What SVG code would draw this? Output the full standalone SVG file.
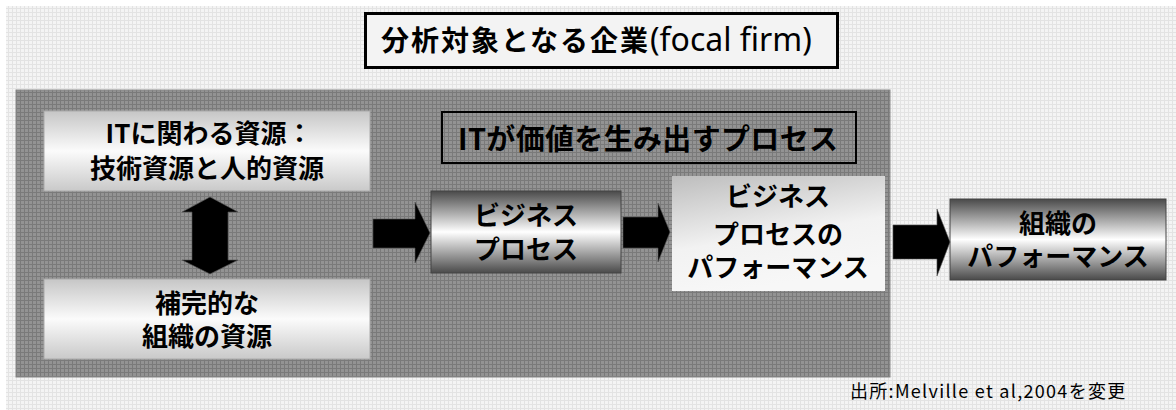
<svg xmlns="http://www.w3.org/2000/svg" width="1176" height="410" viewBox="0 0 1176 410">
<style>
.jp{font-family:"Noto Sans CJK JP","Noto Sans",sans-serif;font-weight:700;fill:#000;}
.lbl{font-size:26px;text-anchor:middle;}
.src{font-family:"Noto Sans CJK JP","Noto Sans",sans-serif;font-weight:400;font-size:18px;letter-spacing:1.3px;fill:#000;}
.arrow{fill:#000;stroke:#555;stroke-width:0.6;}
</style>
<defs>
<pattern id="gridLight" width="4" height="4" patternUnits="userSpaceOnUse">
<rect width="4" height="4" fill="#f4f4f4"/>
<path d="M0 0.5H4M0.5 0V4" stroke="#e3e3e3" stroke-width="1"/>
</pattern>
<pattern id="gridDark" width="4" height="4" patternUnits="userSpaceOnUse">
<rect width="4" height="4" fill="#939393"/>
<path d="M0 0.5H4M0.5 0V4" stroke="#7a7a7a" stroke-width="1"/>
</pattern>
<linearGradient id="gLight" x1="0" y1="0" x2="0" y2="1">
<stop offset="0" stop-color="#c6c6c6"/>
<stop offset="0.5" stop-color="#fbfbfb"/>
<stop offset="1" stop-color="#c9c9c9"/>
</linearGradient>
<linearGradient id="gDark" x1="0" y1="0" x2="0" y2="1">
<stop offset="0" stop-color="#4a4a4a"/>
<stop offset="0.5" stop-color="#ffffff"/>
<stop offset="1" stop-color="#4a4a4a"/>
</linearGradient>
<linearGradient id="gPerf" x1="0" y1="0" x2="0.3" y2="1">
<stop offset="0" stop-color="#bdbdbd"/>
<stop offset="0.6" stop-color="#f2f2f2"/>
<stop offset="1" stop-color="#f7f7f7"/>
</linearGradient>
</defs>
<rect x="0" y="0" width="1176" height="410" fill="#ffffff"/>
<rect x="6" y="6" width="1170" height="404" fill="url(#gridLight)"/>
<g id="firm-panel">
<rect x="16" y="90" width="874" height="287" fill="url(#gridDark)" stroke="#8a8a8a" stroke-width="1"/>
</g>
<g id="title">
<rect x="365.5" y="13.5" width="472" height="54" fill="#f3f3f3" stroke="#000" stroke-width="3"/>
<text class="jp" x="381" y="51" font-size="28" textLength="267" lengthAdjust="spacing">分析対象となる企業</text>
<text x="650" y="51" font-family="Noto Sans, sans-serif" font-size="32" font-weight="400">(focal firm)</text>
</g>
<g id="process-label">
<rect x="442" y="112" width="414" height="51" fill="none" stroke="#000" stroke-width="2"/>
<text class="jp" x="458" y="150" font-size="29" textLength="380" lengthAdjust="spacing">ITが価値を生み出すプロセス</text>
</g>
<g id="it-resources">
<rect x="44" y="111" width="326" height="80" fill="url(#gLight)" stroke="#aaa" stroke-width="1"/>
<text class="jp lbl" x="209" y="143">ITに関わる資源：</text>
<text class="jp lbl" x="207" y="178">技術資源と人的資源</text>
</g>
<g id="org-resources">
<rect x="44" y="279" width="326" height="80" fill="url(#gLight)" stroke="#aaa" stroke-width="1"/>
<text class="jp lbl" x="207" y="313">補完的な</text>
<text class="jp lbl" x="207" y="346">組織の資源</text>
</g>
<g id="business-process">
<rect x="431" y="191" width="190" height="82" fill="url(#gDark)" stroke="#444" stroke-width="1"/>
<text class="jp lbl" x="526" y="225">ビジネス</text>
<text class="jp lbl" x="526" y="259">プロセス</text>
</g>
<g id="bp-performance">
<rect x="672" y="176" width="213" height="115" fill="url(#gPerf)"/>
<text class="jp lbl" x="778" y="206">ビジネス</text>
<text class="jp lbl" x="778" y="244">プロセスの</text>
<text class="jp lbl" x="778" y="277">パフォーマンス</text>
</g>
<g id="org-performance">
<rect x="950" y="199" width="216" height="81" fill="url(#gDark)" stroke="#444" stroke-width="1"/>
<text class="jp lbl" x="1058" y="233">組織の</text>
<text class="jp lbl" x="1058" y="266">パフォーマンス</text>
</g>
<g id="connectors">
<polygon class="arrow" points="210,197 238,212 228,212 228,260 238,260 210,274 182,260 192,260 192,212 182,212"/>
<polygon class="arrow" points="373,219 415,219 415,202 430,233 415,263 415,248 373,248"/>
<polygon class="arrow" points="623,217 658,217 658,203 670,232 658,262 658,248 623,248"/>
<polygon class="arrow" points="893,225 937,225 937,209 950,242 937,276 937,259 893,259"/>
</g>
<g id="source">
<text class="src" x="850" y="398">出所:Melville et al,2004を変更</text>
</g>
</svg>
